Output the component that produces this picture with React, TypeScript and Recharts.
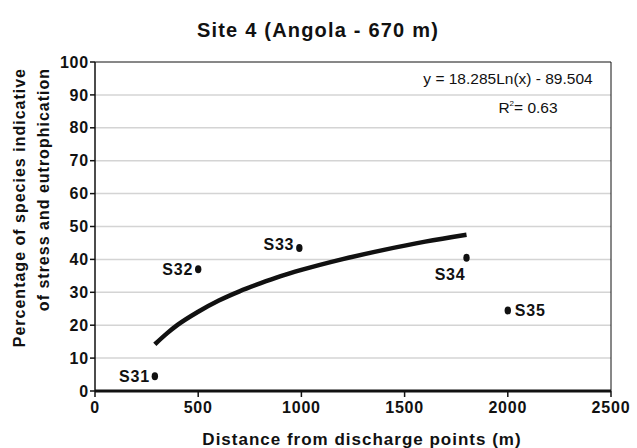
import { ComposedChart, Line, Scatter, XAxis, YAxis, CartesianGrid, ReferenceLine } from 'recharts';

const stations = ['S31', 'S32', 'S33', 'S34', 'S35'];
const distances = [290, 500, 990, 1800, 2000];
const percentages = [4.5, 37, 43.5, 40.5, 24.5];

// trend curve (log fit shown in the equation box)
const trendX = [290, 350, 400, 500, 600, 700, 800, 900, 1000, 1200, 1400, 1600, 1800];
const trendY = [14.2, 17.6, 20.1, 24.1, 27.5, 30.3, 32.7, 34.9, 36.8, 40.1, 42.9, 45.4, 47.5];

const xTicks = [0, 500, 1000, 1500, 2000, 2500];
const yTicks = [0, 10, 20, 30, 40, 50, 60, 70, 80, 90, 100];

const points = stations.map((name, i) => ({ name, x: distances[i], y: percentages[i] }));
const trend = trendX.map((x, i) => ({ x, y: trendY[i] }));

const FONT = '"Liberation Sans", Arial, sans-serif';
const labelSide: Record<string, string> = { S31: 'left', S32: 'left', S33: 'left', S34: 'below', S35: 'right' };

const Dot = (props: any) => {
  const { cx, cy, payload } = props;
  const side = labelSide[payload.name];
  let tx = cx - 5, ty = cy + 6, anchor: 'end' | 'start' = 'end';
  if (side === 'right') { tx = cx + 7; anchor = 'start'; }
  if (side === 'below') { tx = cx - 1; ty = cy + 22; }
  if (payload.name === 'S33') ty = cy + 2;
  return (
    <g>
      <ellipse cx={cx} cy={cy} rx={3.2} ry={4} fill="#111" />
      <text x={tx} y={ty} textAnchor={anchor} fontFamily={FONT} fontWeight="bold" fontSize={16} letterSpacing={0.8} fill="#111">{payload.name}</text>
    </g>
  );
};

const YTitle = () => {
  const top = 68;
  return (
    <g transform={`rotate(-90, 0, ${top})`} fontFamily={FONT} fontWeight="bold" fontSize={16} letterSpacing={1} fill="#111">
      <text x={0} y={top + 25} textAnchor="end" transform={`translate(0, 0)`}>Percentage of species indicative</text>
      <text x={0} y={top + 49} textAnchor="end">of stress and eutrophication</text>
    </g>
  );
};

const tickStyle = { fontFamily: FONT, fontWeight: 'bold', fontSize: 16, letterSpacing: 0.8, fill: '#111' } as any;

export default function App() {
  return (
    <div style={{ position: 'absolute', left: 0, top: 0, width: 637, height: 448, background: '#fff' }}>
      <ComposedChart width={637} height={448} margin={{ top: 62, right: 26, bottom: 0, left: 0 }} style={{ position: 'absolute', left: 0, top: 0 }}>
        <CartesianGrid vertical={false} stroke="#d4d4d4" strokeWidth={1.5} horizontalValues={[10, 20, 30, 40, 50, 60, 70, 80, 90]} />
        <XAxis type="number" dataKey="x" domain={[0, 2500]} ticks={xTicks} interval={0} height={57}
          tick={tickStyle} tickSize={6} tickMargin={5} tickLine={{ stroke: '#111', strokeWidth: 1.5 }} axisLine={{ stroke: '#111', strokeWidth: 3 }}
          allowDuplicatedCategory={false}
          label={{ value: 'Distance from discharge points (m)', position: 'insideBottom', offset: 3, dx: 9, style: { fontFamily: FONT, fontWeight: 'bold', fontSize: 17, letterSpacing: 1, fill: '#111' } }} />
        <YAxis type="number" dataKey="y" domain={[0, 100]} ticks={yTicks} interval={0} width={95}
          tick={tickStyle} tickSize={5} tickMargin={1} tickLine={{ stroke: '#111', strokeWidth: 1.5 }} axisLine={{ stroke: '#111', strokeWidth: 1.5 }} />
        <ReferenceLine y={100} stroke="#111" strokeWidth={1} />
        <ReferenceLine x={2500} stroke="#111" strokeWidth={1} />
        <Line data={trend} dataKey="y" type="monotone" stroke="#111" strokeWidth={4.5} dot={false} activeDot={false} isAnimationActive={false} />
        <Scatter data={points} dataKey="y" shape={<Dot />} isAnimationActive={false} />
        <text x={318} y={37} textAnchor="middle" fontFamily={FONT} fontWeight="bold" fontSize={20} letterSpacing={1.2} fill="#111">Site 4 (Angola - 670 m)</text>
        <YTitle />
        <text x={508} y={84} textAnchor="middle" fontFamily={FONT} fontSize={15.5} fill="#111">y = 18.285Ln(x) - 89.504</text>
        <text x={528} y={113} textAnchor="middle" fontFamily={FONT} fontSize={15.5} fill="#111">
          R<tspan dy={-7} fontSize={8}>2</tspan><tspan dy={7}>= 0.63</tspan>
        </text>
      </ComposedChart>
    </div>
  );
}
